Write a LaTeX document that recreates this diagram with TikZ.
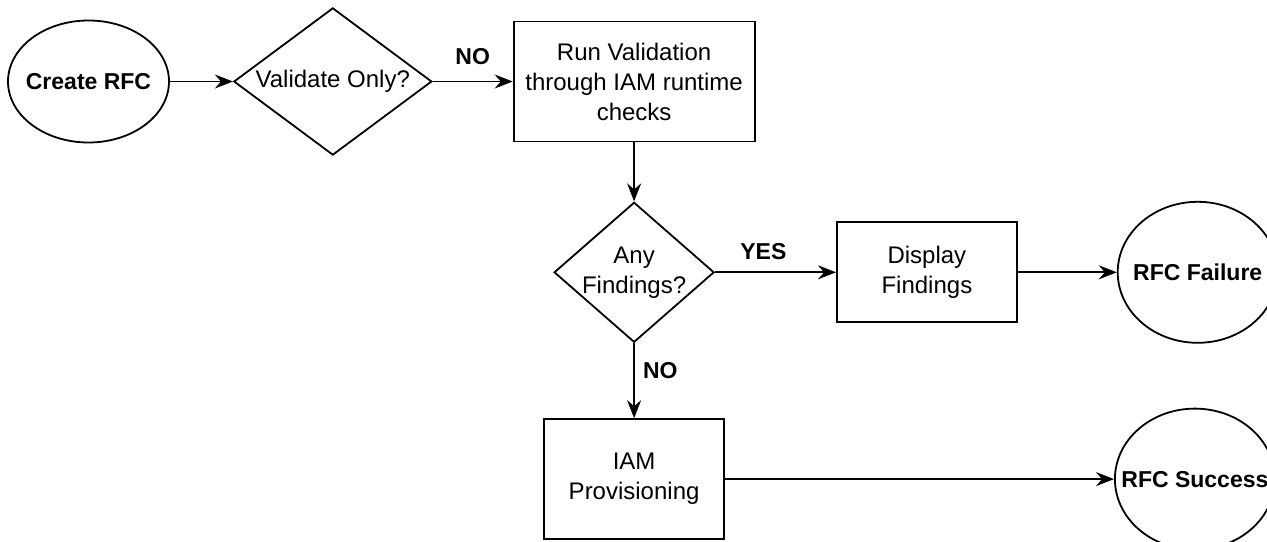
\documentclass[tikz,border=0pt]{standalone}
\usepackage{fontspec}
\setmainfont{Liberation Sans}
\usetikzlibrary{shapes, arrows.meta, positioning}

\begin{document}
\begin{tikzpicture}[
        font=\fontsize{12}{15}\selectfont,
        line width=0.9pt,
        >={Stealth[length=9pt, width=7pt, inset=3pt]},
        terminal/.style={ellipse, draw, inner xsep=-10pt, inner ysep=0pt, font=\fontsize{11.5}{15}\selectfont\bfseries},
        decision/.style={diamond, draw, inner xsep=-3pt, inner ysep=0pt, aspect=1.14},
        process/.style={rectangle, draw, inner sep=2pt},
        answer/.style={font=\fontsize{11.5}{15}\selectfont\bfseries, inner sep=3pt},
    ]

\useasboundingbox (0,0) rectangle (633.5pt,-270.5pt);

\node[terminal, minimum width=80.5pt, minimum height=61pt] (CreateRFC) at (44.25pt,-40.75pt) {Create RFC};

\node[decision, align=center, minimum width=99pt, minimum height=71pt, right=31.5pt of CreateRFC] (ValidateOnly) {Validate Only?};
\draw[->] (CreateRFC) -- (ValidateOnly);

\node[process, align=center, minimum width=120.5pt, minimum height=60pt, right=40pt of ValidateOnly] (RunValidation) {Run Validation\\through IAM runtime\\checks};
\draw[->] (ValidateOnly) -- (RunValidation) node[answer, midway, above=5pt] {NO};

\node[decision, align=center, minimum width=80pt, minimum height=70pt, below=29.5pt of RunValidation] (AnyFindings) {Any\\Findings?};
\draw[->] (RunValidation) -- (AnyFindings);

\node[process, align=center, minimum width=90pt, minimum height=50pt, right=60.5pt of AnyFindings] (DisplayFindings) {Display\\Findings};
\draw[->] (AnyFindings) -- (DisplayFindings) node[answer, pos=0.4, above=3pt] {YES};

\node[terminal, minimum width=80pt, minimum height=70.5pt, right=49.5pt of DisplayFindings] (RFCFailure) {RFC Failure};
\draw[->] (DisplayFindings) -- (RFCFailure);

\node[process, align=center, minimum width=90pt, minimum height=60pt, below=37.5pt of AnyFindings] (IAMProvisioning) {IAM\\Provisioning};
\draw[->] (AnyFindings) -- (IAMProvisioning) node[answer, pos=0.37, right=1pt] {NO};

\node[terminal, minimum width=80pt, minimum height=70.5pt, right=194.5pt of IAMProvisioning] (RFCSuccess) {RFC Success};
\draw[->] (IAMProvisioning) -- (RFCSuccess);
\end{tikzpicture}
\end{document}
